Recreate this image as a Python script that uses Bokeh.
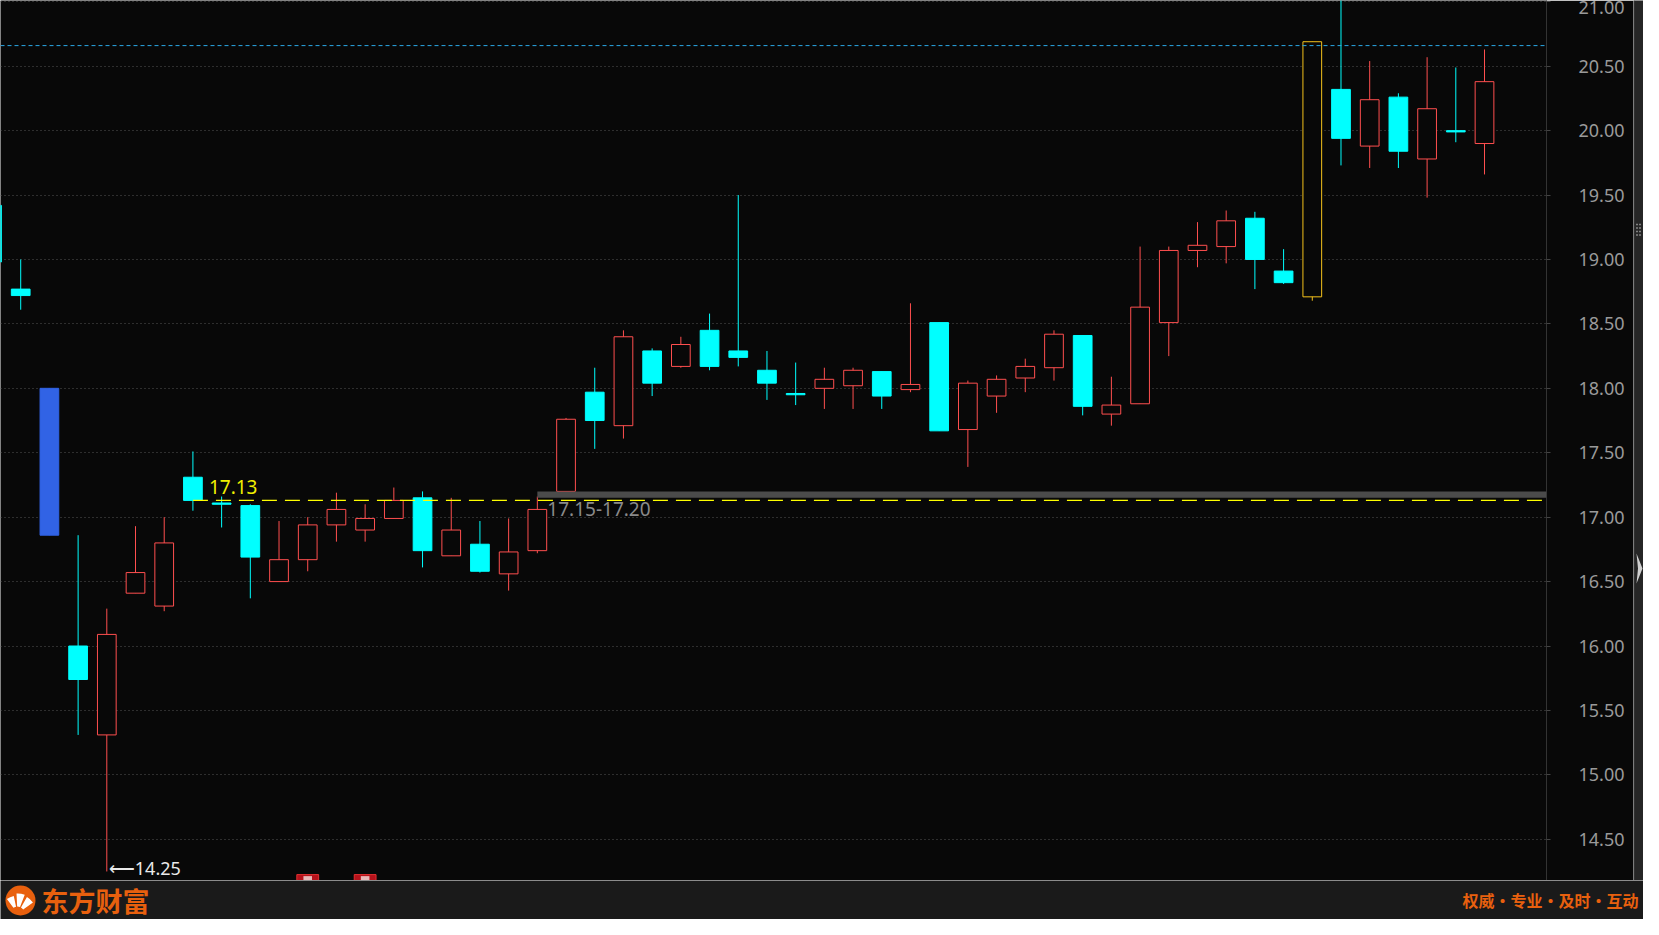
from bokeh.plotting import figure
from bokeh.models import Range1d, FixedTicker, NumeralTickFormatter, ColumnDataSource, Span, BoxAnnotation
from bokeh.layouts import column, row
from bokeh.core.properties import value
from bokeh.embed import file_html
from bokeh.resources import INLINE

# ---------------- data ----------------
day_index = list(range(53))
open_ = [19.42, 18.77, 18.00, 16.00, 15.31, 16.41, 16.31, 17.31, 17.11, 17.09,
         16.50, 16.67, 16.94, 16.90, 16.99, 17.15, 16.70, 16.79, 16.56, 16.74,
         17.20, 17.97, 17.71, 18.29, 18.17, 18.45, 18.29, 18.14, 17.96, 18.00,
         18.02, 18.13, 17.99, 18.51, 17.68, 17.94, 18.08, 18.16, 18.41, 17.80,
         17.88, 18.51, 19.07, 19.10, 19.32, 18.91, 18.71, 20.32, 19.88, 20.26,
         19.78, 20.00, 19.90]
high = [19.50, 19.00, 18.00, 16.86, 16.29, 16.93, 17.00, 17.51, 17.16, 17.10,
        16.97, 17.00, 17.19, 17.10, 17.23, 17.20, 17.15, 16.97, 16.99, 17.16,
        17.77, 18.16, 18.45, 18.31, 18.40, 18.58, 19.50, 18.29, 18.20, 18.16,
        18.16, 18.13, 18.66, 18.51, 18.06, 18.10, 18.23, 18.45, 18.41, 18.09,
        19.10, 19.10, 19.29, 19.38, 19.37, 19.08, 20.69, 21.10, 20.54, 20.29,
        20.57, 20.49, 20.63]
low = [18.90, 18.61, 16.86, 15.31, 14.25, 16.41, 16.27, 17.05, 16.92, 16.37,
       16.50, 16.58, 16.81, 16.81, 16.99, 16.61, 16.70, 16.57, 16.43, 16.72,
       17.20, 17.53, 17.61, 17.94, 18.16, 18.14, 18.17, 17.91, 17.87, 17.84,
       17.84, 17.84, 17.97, 17.67, 17.39, 17.81, 17.97, 18.06, 17.79, 17.71,
       17.88, 18.25, 18.94, 18.97, 18.77, 18.81, 18.68, 19.73, 19.71, 19.71,
       19.48, 19.91, 19.66]
close = [18.98, 18.72, 16.86, 15.74, 16.09, 16.57, 16.80, 17.13, 17.10, 16.69,
         16.67, 16.94, 17.06, 16.99, 17.13, 16.74, 16.90, 16.58, 16.73, 17.06,
         17.76, 17.75, 18.40, 18.04, 18.34, 18.17, 18.24, 18.04, 17.95, 18.07,
         18.14, 17.94, 18.03, 17.67, 18.04, 18.07, 18.17, 18.42, 17.86, 17.87,
         18.63, 19.07, 19.11, 19.30, 19.00, 18.82, 20.69, 19.94, 20.24, 19.84,
         20.17, 19.99, 20.38]

price_ticks = [14.5, 15.0, 15.5, 16.0, 16.5, 17.0, 17.5, 18.0, 18.5, 19.0, 19.5, 20.0, 20.5, 21.0]
limit_up_price = 20.66
cost_price = 17.13
cost_day = 7
zone_low, zone_high = 17.15, 17.20
zone_day = 19
zone_text = "17.15-17.20"
low_day = 4
low_text = "⟵14.25"
blue_day = 2
limit_up_day = 46
event_days = [11, 13]
brand_text = "东方财富"
slogan_text = "权威·专业·及时·互动"

# ---------------- style ----------------
BG = "#080808"
RED = "#ff4f4f"
CYAN = "#00ffff"
BLUE = "#3163e5"
GOLD = "#f5c21b"
ORANGE = "#e8600e"
NUM_FONT = "Noto Sans"
CJK_FONT = "Noto Sans CJK SC"

X0, X1 = 0.296, 54.16
Y0, Y1 = 14.18, 21.01

fills, lines, tops, bots = [], [], [], []
for i in day_index:
    o, c = open_[i], close[i]
    tops.append(max(o, c))
    bots.append(min(o, c))
    if i == blue_day:
        fills.append(BLUE); lines.append(BLUE)
    elif i == limit_up_day:
        fills.append(BG); lines.append(GOLD)
    elif c > o:
        fills.append(BG); lines.append(RED)
    else:
        fills.append(CYAN); lines.append(CYAN)

src = ColumnDataSource(dict(x=day_index, h=high, l=low, top=tops, bot=bots, fc=fills, lc=lines))

p = figure(width=1633, height=880, x_range=Range1d(X0, X1), y_range=Range1d(Y0, Y1),
           output_backend="svg", toolbar_location=None,
           x_axis_location=None, y_axis_location="right",
           background_fill_color=BG, border_fill_color=BG, outline_line_color=None,
           min_border_left=0, min_border_right=87, min_border_top=0, min_border_bottom=0)

ax = p.yaxis[0]
ax.ticker = FixedTicker(ticks=price_ticks)
ax.formatter = NumeralTickFormatter(format="0.00")
ax.axis_line_color = "#333333"
ax.major_tick_line_color = "#444444"
ax.major_tick_out = 4
ax.major_tick_in = 0
ax.minor_tick_line_color = None
ax.major_label_standoff = 28
ax.major_label_text_color = "#9a9a9a"
ax.major_label_text_font = NUM_FONT
ax.major_label_text_font_size = "18px"

p.xgrid.visible = False
p.ygrid.ticker = FixedTicker(ticks=price_ticks)
p.ygrid.grid_line_color = "#555555"
p.ygrid.grid_line_dash = "1 3"
p.ygrid.grid_line_width = 1

# candles
p.segment(x0="x", y0="h", x1="x", y1="l", line_color="lc", line_width=1, source=src)
p.vbar(x="x", width=0.652, top="top", bottom="bot", fill_color="fc", line_color="lc",
       line_width=1, source=src)

# zone band and reference lines
p.add_layout(BoxAnnotation(left=zone_day, bottom=zone_low, top=zone_high,
                           fill_color="#4b4b4b", fill_alpha=1, line_color=None))
p.add_layout(Span(location=limit_up_price, dimension="width", line_color="#2aa8e6",
                  line_dash="4 3", line_width=1))
p.ray(x=[cost_day], y=[cost_price], length=0, angle=0, line_color="#ffff00",
      line_dash="15 8", line_width=1.3)

# event markers at the bottom
p.vbar(x=event_days, width=0.76, bottom=Y0, top=[14.226] * len(event_days),
       fill_color="#b5121b", line_color="#e03030", line_width=1)
p.vbar(x=event_days, width=0.3, bottom=Y0, top=[14.214] * len(event_days),
       fill_color="#e8b8b8", line_color=None)

# labels
p.text(x=[cost_day], y=[cost_price], text=[f"{cost_price:.2f}"], x_offset=16, y_offset=-13,
       text_color="#f0f000", text_font=value(NUM_FONT), text_font_size="19px",
       text_baseline="middle", text_align="left")
p.text(x=[zone_day], y=[zone_low], text=[zone_text], x_offset=10, y_offset=11,
       text_color="#8a8a8a", text_font=value(NUM_FONT), text_font_size="19px",
       text_baseline="middle", text_align="left")
p.text(x=[low_day], y=[low[low_day]], text=[low_text], x_offset=2, y_offset=-3,
       text_color="#eaeaea", text_font=value(NUM_FONT), text_font_size="18px",
       text_baseline="middle", text_align="left")

# ---------------- right scroll strip ----------------
s = figure(width=10, height=880, x_range=Range1d(0, 10), y_range=Range1d(0, 880),
           output_backend="svg", toolbar_location=None, x_axis_location=None, y_axis_location=None,
           background_fill_color="#262626", border_fill_color="#262626", outline_line_color=None,
           min_border=0)
s.grid.visible = False
s.add_layout(Span(location=0.5, dimension="height", line_color="#3d3d3d", line_width=1))
dot_x = [3.5, 6.5] * 4
dot_y = [656, 656, 652.5, 652.5, 649, 649, 645.5, 645.5]
s.rect(x=dot_x, y=dot_y, width=1.6, height=1.6, fill_color="#9a9a9a", line_color=None)
s.patch(x=[3, 9, 3, 4.5], y=[327, 312, 297, 312], fill_color="#cfcfcf", line_color=None)

# ---------------- footer ----------------
f = figure(width=1643, height=39, x_range=Range1d(0, 1643), y_range=Range1d(0, 39),
           output_backend="svg", toolbar_location=None, x_axis_location=None, y_axis_location=None,
           background_fill_color="#1a1a1a", border_fill_color="#1a1a1a", outline_line_color=None,
           min_border=0)
f.grid.visible = False
f.circle(x=[20], y=[19], radius=15, fill_color=ORANGE, line_color=None)
f.annular_wedge(x=[17, 17, 17], y=[6, 6, 6], inner_radius=7, outer_radius=[19, 20, 18],
                start_angle=[0.62, 1.2, 1.78], end_angle=[1.05, 1.62, 2.2],
                fill_color="white", line_color=None)
f.text(x=[41], y=[19], text=[brand_text], text_color=ORANGE, text_font=value(CJK_FONT),
       text_font_style="bold", text_font_size="27px", text_baseline="middle", text_align="left")
f.text(x=[1638], y=[20], text=[slogan_text], text_color=ORANGE, text_font=value(CJK_FONT),
       text_font_style="bold", text_font_size="16px", text_baseline="middle", text_align="right")

layout = column(row(p, s, spacing=0), f, spacing=0)
open("out.html", "w").write(file_html(layout, INLINE))
